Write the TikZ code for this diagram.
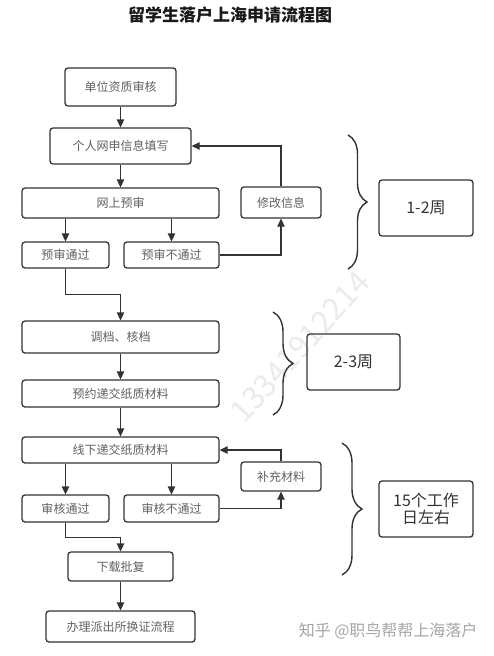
\documentclass[tikz,border=0pt]{standalone}
\usepackage{fontspec}
\newfontfamily\cjk{Noto Sans CJK SC}
\usetikzlibrary{arrows.meta,decorations.pathreplacing}
\tikzset{
  box/.style={draw=black!80, line width=1.3pt, rounded corners=3pt, text=black!62,
    font=\cjk\fontsize{12}{14}\selectfont, inner sep=0pt, anchor=center},
  tbox/.style={box, text=black!80, font=\cjk\fontsize{16}{20}\selectfont, align=center},
  arr/.style={draw=black!80, line width=1.3pt, -{Triangle[length=8pt,width=7.5pt]}},
  brc/.style={draw=black!80, line width=1.4pt, decorate, decoration={brace, amplitude=#1}}
}
\begin{document}
\begin{tikzpicture}[x=1pt,y=-1pt]
\useasboundingbox[fill=white] (0,0) rectangle (493,656);
% watermark
\node[text=black!8, font=\cjk\fontsize{31}{31}\selectfont, rotate=48] (wm) at (300,347) {13341912214};
% title
\node[font=\cjk\bfseries\fontsize{17}{20}\selectfont, text=black!90] (title) at (230,15) {留学生落户上海申请流程图};
% boxes
\node[box, minimum width=111pt, minimum height=38pt] (b1) at (120.5,87) {单位资质审核};
\node[box, minimum width=141pt, minimum height=36pt] (b2) at (120.5,146) {个人网申信息填写};
\node[box, minimum width=197pt, minimum height=30pt] (b3) at (120.5,203) {网上预审};
\node[box, minimum width=80pt, minimum height=31pt] (b4) at (281,202.5) {修改信息};
\node[box, minimum width=87pt, minimum height=26pt] (b5) at (65.5,255) {预审通过};
\node[box, minimum width=95pt, minimum height=26pt] (b6) at (171.5,255) {预审不通过};
\node[tbox, minimum width=94pt, minimum height=56pt] (t1) at (426,208) {1-2周};
\node[box, minimum width=197pt, minimum height=32pt] (b7) at (120.5,337) {调档、核档};
\node[box, minimum width=197pt, minimum height=27pt] (b8) at (120.5,393.5) {预约递交纸质材料};
\node[tbox, minimum width=93pt, minimum height=56pt] (t2) at (353.5,362) {2-3周};
\node[box, minimum width=197pt, minimum height=26pt] (b9) at (120.5,450) {线下递交纸质材料};
\node[box, minimum width=80pt, minimum height=29pt] (b10) at (281,476.5) {补充材料};
\node[box, minimum width=87pt, minimum height=27pt] (b11) at (65.5,508.5) {审核通过};
\node[box, minimum width=95pt, minimum height=27pt] (b12) at (171.5,508.5) {审核不通过};
\node[box, minimum width=105pt, minimum height=29pt] (b13) at (120.5,566.5) {下载批复};
\node[box, minimum width=149pt, minimum height=31pt] (b14) at (120.5,626.5) {办理派出所换证流程};
\node[tbox, minimum width=94pt, minimum height=56pt] (t3) at (426,509) {15个工作\\[-3pt]日左右};
% arrows
\draw[arr] (b1) -- (b2);
\draw[arr] (b2) -- (b3);
\draw[arr] (b5.north |- b3.south) -- (b5.north);
\draw[arr] (b6.north |- b3.south) -- (b6.north);
\draw[arr] (b6.east) -| (b4.south);
\draw[arr] (b4.north) |- (b2.east);
\draw[arr] (b5.south) -- ++(0,26) -| (b7.north);
\draw[arr] (b7) -- (b8);
\draw[arr] (b8) -- (b9);
\draw[arr] (b11.north |- b9.south) -- (b11.north);
\draw[arr] (b12.north |- b9.south) -- (b12.north);
\draw[arr] (b12.east) -| (b10.south);
\draw[arr] (b10.north) |- (b9.east);
\draw[arr] (b11.south) -- ++(0,15) -| (b13.north);
\draw[arr] (b13) -- (b14);
% braces
\coordinate (br1a) at (348,135);
\coordinate (br1b) at (348,269);
\coordinate (br2a) at (273,312);
\coordinate (br2b) at (273,415);
\coordinate (br3a) at (342,443);
\coordinate (br3b) at (342,575);
\draw[brc=19pt] (br1a) -- (br1b);
\draw[brc=20pt] (br2a) -- (br2b);
\draw[brc=20pt] (br3a) -- (br3b);
% footer
\node[text=black!35, font=\cjk\fontsize{16}{18}\selectfont, anchor=east] (zh) at (481,631) {知乎 @职鸟帮帮上海落户};
\end{tikzpicture}
\end{document}
